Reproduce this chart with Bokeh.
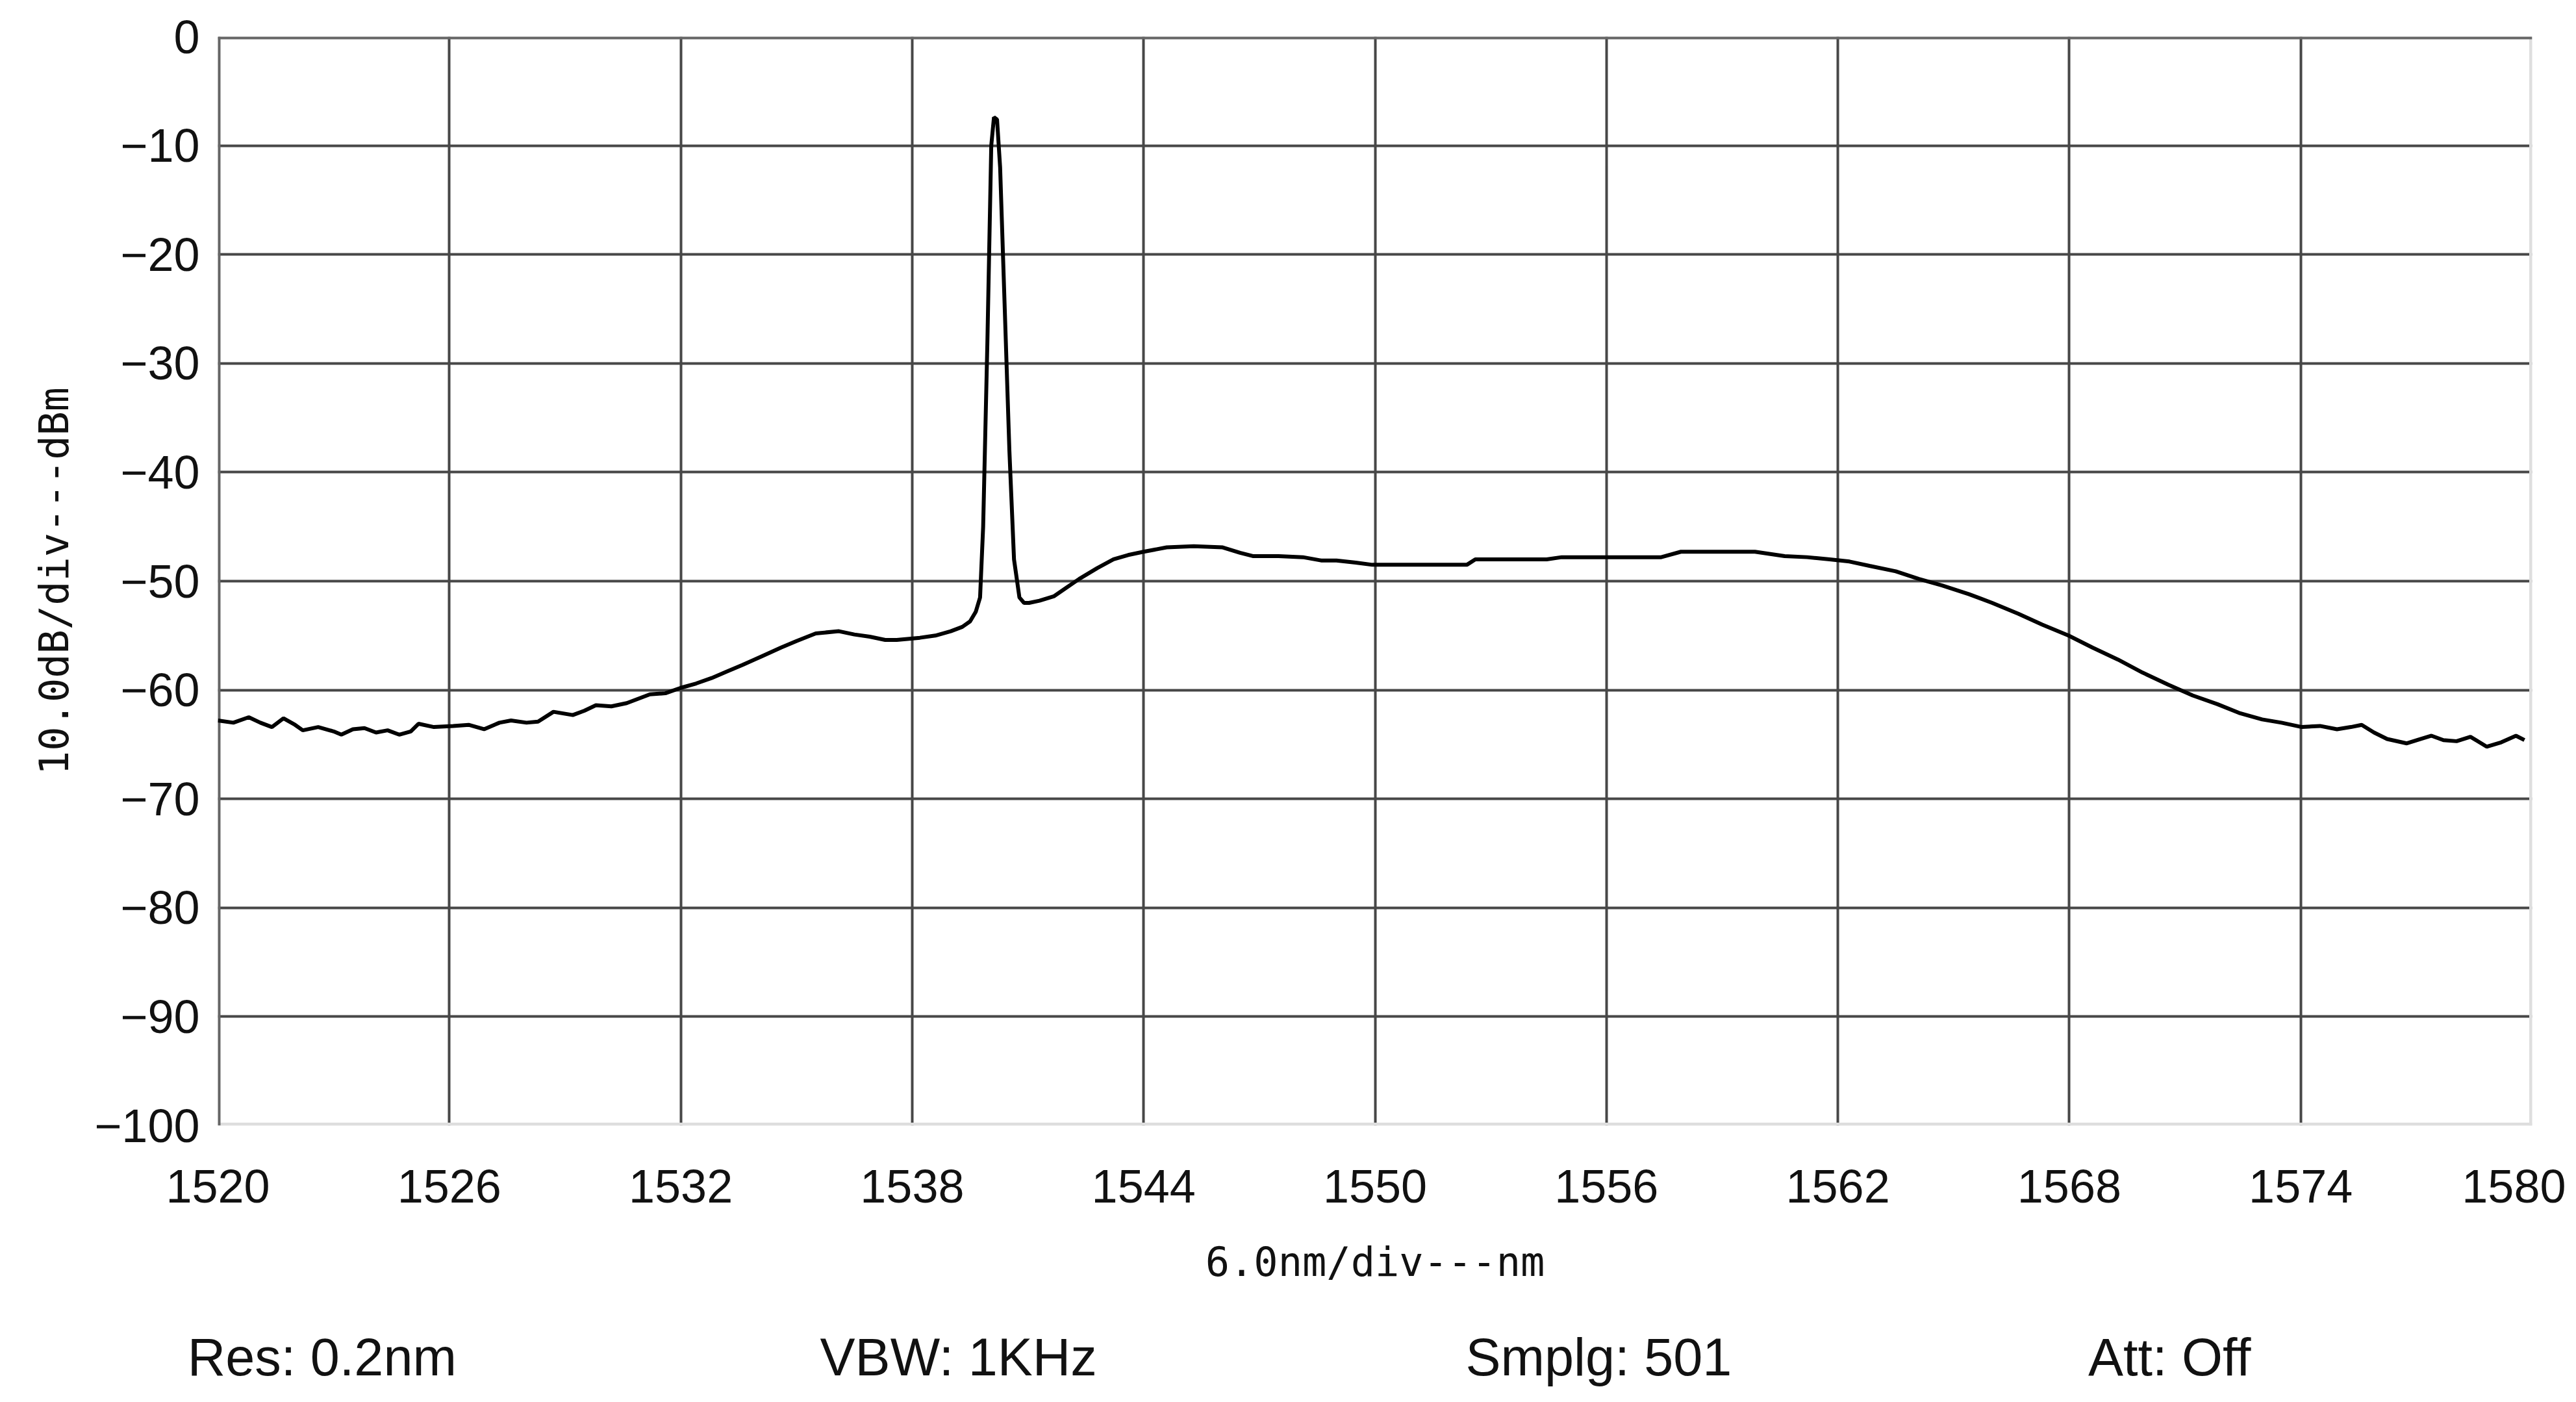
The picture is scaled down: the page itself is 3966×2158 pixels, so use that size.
from bokeh.plotting import figure
from bokeh.models import FixedTicker, Span, Range1d, LinearAxis
from bokeh.embed import file_html
from bokeh.resources import INLINE

# ---- data ----
wavelength_nm = [
    1520.0, 1520.4, 1520.8, 1521.1, 1521.4, 1521.7, 1522.0, 1522.2, 1522.6, 1523.0,
    1523.2, 1523.5, 1523.8, 1524.1, 1524.4, 1524.7, 1525.0, 1525.2, 1525.6, 1526.1,
    1526.5, 1526.9, 1527.3, 1527.6, 1528.0, 1528.3, 1528.7, 1529.2, 1529.5, 1529.8,
    1530.2, 1530.6, 1530.9, 1531.2, 1531.6, 1532.0, 1532.4, 1532.8, 1533.2, 1533.6,
    1534.1, 1534.6, 1535.0, 1535.5, 1536.1, 1536.5, 1536.9, 1537.3, 1537.6, 1538.2,
    1538.6, 1539.0, 1539.3, 1539.5, 1539.65, 1539.76, 1539.84, 1539.95, 1540.05, 1540.12,
    1540.2, 1540.28, 1540.4, 1540.52, 1540.64, 1540.78, 1540.9, 1541.03, 1541.3, 1541.67,
    1542.0, 1542.33, 1542.8, 1543.22, 1543.6, 1544.0, 1544.6, 1545.3, 1546.05, 1546.5,
    1546.83, 1547.5, 1548.13, 1548.6, 1549.0, 1549.5, 1549.93, 1551.0, 1552.38, 1552.6,
    1553.5, 1554.45, 1554.84, 1556.0, 1557.42, 1557.93, 1559.0, 1559.85, 1560.62, 1561.2,
    1561.79, 1562.3, 1562.82, 1563.5, 1564.1, 1564.7, 1565.4, 1566.0, 1566.68, 1567.3,
    1567.98, 1568.6, 1569.26, 1569.9, 1570.56, 1571.2, 1571.84, 1572.4, 1573.0, 1573.5,
    1574.03, 1574.5, 1574.94, 1575.3, 1575.58, 1575.9, 1576.24, 1576.75, 1577.1, 1577.39,
    1577.7, 1578.04, 1578.4, 1578.82, 1579.2, 1579.58, 1579.8,
]
power_dbm = [
    -62.8, -63.0, -62.5, -63.0, -63.4, -62.6, -63.2, -63.7, -63.4, -63.8,
    -64.1, -63.6, -63.5, -63.9, -63.7, -64.1, -63.8, -63.1, -63.4, -63.3,
    -63.2, -63.6, -63.0, -62.8, -63.0, -62.9, -62.0, -62.3, -61.9, -61.4,
    -61.5, -61.2, -60.8, -60.4, -60.3, -59.8, -59.4, -58.9, -58.3, -57.7,
    -56.9, -56.1, -55.5, -54.8, -54.6, -54.9, -55.1, -55.4, -55.4, -55.2,
    -55.0, -54.6, -54.2, -53.7, -52.8, -51.5, -45.0, -28.0, -10.0, -7.4,
    -7.6, -12.0, -25.0, -38.0, -48.0, -51.5, -52.0, -52.0, -51.8, -51.4,
    -50.6, -49.8, -48.8, -48.0, -47.6, -47.3, -46.9, -46.8, -46.9, -47.4,
    -47.7, -47.7, -47.8, -48.1, -48.1, -48.3, -48.5, -48.5, -48.5, -48.0,
    -48.0, -48.0, -47.8, -47.8, -47.8, -47.3, -47.3, -47.3, -47.7, -47.8,
    -48.0, -48.2, -48.6, -49.1, -49.8, -50.4, -51.2, -52.0, -53.0, -54.0,
    -55.0, -56.1, -57.2, -58.4, -59.5, -60.5, -61.3, -62.1, -62.7, -63.0,
    -63.4, -63.3, -63.6, -63.4, -63.2, -63.9, -64.5, -64.9, -64.5, -64.2,
    -64.6, -64.7, -64.3, -65.2, -64.8, -64.2, -64.6,
]
x_ticks = [1520, 1526, 1532, 1538, 1544, 1550, 1556, 1562, 1568, 1574, 1580]
y_ticks = [0, -10, -20, -30, -40, -50, -60, -70, -80, -90, -100]
x_label = "6.0nm/div---nm"
y_label = "10.0dB/div---dBm"
info_texts = ["Res: 0.2nm", "VBW: 1KHz", "Smplg: 501", "Att: Off"]
info_center_nm = [1522.7, 1539.2, 1555.8, 1570.6]

# ---- figure ----
p = figure(width=3950, height=2140, output_backend="svg", toolbar_location=None,
           x_range=Range1d(1520, 1580), y_range=Range1d(-100, 0),
           min_border_left=335, min_border_right=52, min_border_top=56,
           min_border_bottom=408)
p.background_fill_color = "white"
p.border_fill_color = "white"
p.outline_line_color = None

p.xaxis.ticker = FixedTicker(ticks=x_ticks)
p.yaxis.ticker = FixedTicker(ticks=y_ticks)
for ax in (p.xaxis, p.yaxis):
    ax.axis_line_color = None
    ax.major_tick_line_color = None
    ax.minor_tick_line_color = None
    ax.major_label_text_font = "Liberation Sans"
    ax.major_label_text_font_size = "72px"
    ax.major_label_text_color = "#111111"
    ax.axis_label_text_font = "DejaVu Sans Mono"
    ax.axis_label_text_font_size = "62px"
    ax.axis_label_text_font_style = "normal"
    ax.axis_label_text_color = "#111111"

p.xaxis.axis_label = x_label
p.yaxis.axis_label = y_label
p.xaxis.major_label_standoff = 62
p.yaxis.major_label_standoff = 22
p.xaxis.axis_label_standoff = 52
p.yaxis.axis_label_standoff = 22

# instrument settings line under the chart
info_axis = LinearAxis(ticker=FixedTicker(ticks=info_center_nm),
                       major_label_overrides={v: t for v, t in zip(info_center_nm, info_texts)})
info_axis.axis_line_color = None
info_axis.major_tick_line_color = None
info_axis.minor_tick_line_color = None
info_axis.major_label_text_font = "Liberation Sans"
info_axis.major_label_text_font_size = "81px"
info_axis.major_label_text_color = "#111111"
info_axis.major_label_standoff = 56
p.add_layout(info_axis, "below")

p.xgrid.ticker = FixedTicker(ticks=x_ticks)
p.ygrid.ticker = FixedTicker(ticks=y_ticks)
for g in (p.xgrid, p.ygrid):
    g.grid_line_color = "#474747"
    g.grid_line_width = 4

# frame edges: dark left/top, light right/bottom
p.add_layout(Span(location=-100, dimension="width", line_color="#dedede", line_width=9, level="underlay"))
p.add_layout(Span(location=1580, dimension="height", line_color="#dedede", line_width=9, level="underlay"))
p.add_layout(Span(location=1520, dimension="height", line_color="#666666", line_width=8, level="underlay"))
p.add_layout(Span(location=0, dimension="width", line_color="#666666", line_width=8, level="underlay"))

p.line(wavelength_nm, power_dbm, line_color="black", line_width=6)

open("out.html", "w").write(file_html(p, INLINE))
